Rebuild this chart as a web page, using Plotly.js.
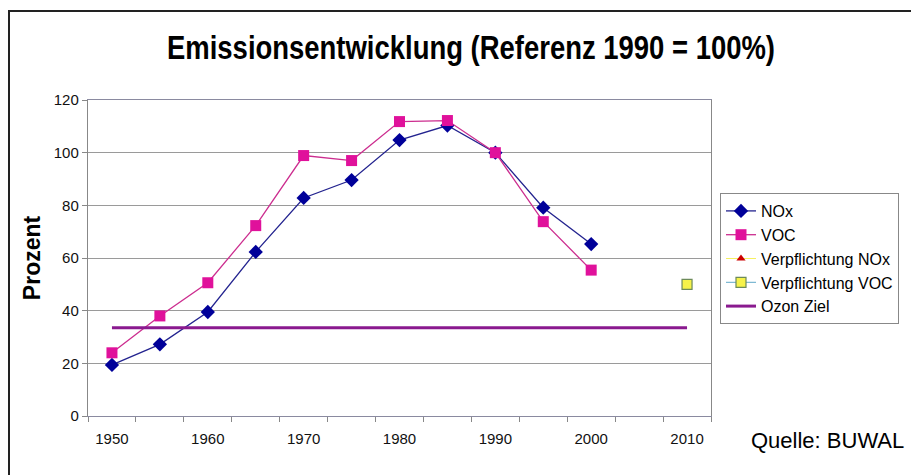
<!DOCTYPE html>
<html>
<head>
<meta charset="utf-8">
<script src="https://cdn.plot.ly/plotly-3.0.1.min.js"></script>
<style>
  html, body { margin: 0; padding: 0; background: #fff; }
  #wrap { position: relative; width: 911px; height: 475px; overflow: hidden; }
  #chart { width: 911px; height: 475px; }
  #frame { position: absolute; left: 8px; top: 10px; width: 1000px; height: 1000px;
           border-left: 2px solid #222; border-top: 2px solid #222; pointer-events: none; }
</style>
</head>
<body>
<div id="wrap">
  <div id="chart"></div>
  <div id="frame"></div>
</div>
<script>
// ---- data ----
const years = [1950, 1955, 1960, 1965, 1970, 1975, 1980, 1985, 1990, 1995, 2000];
const noxValues = [19.4, 27.2, 39.5, 62.3, 82.8, 89.6, 104.8, 110.3, 100, 79.1, 65.3];
const vocValues = [24.0, 38.0, 50.6, 72.3, 98.9, 97.0, 111.8, 112.2, 100, 73.8, 55.4];
const targetYears = [2010];
const targetNox = [50];
const targetVoc = [50];
const ozonYears = [1950, 2010];
const ozonValues = [33.5, 33.5];
const tickYears = [1950, 1960, 1970, 1980, 1990, 2000, 2010];
const tickLabels = ['1950', '1960', '1970', '1980', '1990', '2000', '2010'];

const font = 'Arial, "Liberation Sans", sans-serif';

const traces = [
  { name: 'NOx', x: years, y: noxValues, type: 'scatter', mode: 'lines+markers',
    line: { color: '#23238f', width: 1.3 },
    marker: { symbol: 'diamond', size: 11, color: '#000099' } },
  { name: 'VOC', x: years, y: vocValues, type: 'scatter', mode: 'lines+markers',
    line: { color: '#cc2d8f', width: 1.3 },
    marker: { symbol: 'square', size: 11, color: '#e0119b' } },
  { name: 'Verpflichtung NOx', x: targetYears, y: targetNox, type: 'scatter', mode: 'lines+markers',
    line: { color: '#f5f060', width: 1 },
    marker: { symbol: 'triangle-up', size: 8, color: '#cc0000' } },
  { name: 'Verpflichtung VOC', x: targetYears, y: targetVoc, type: 'scatter', mode: 'lines+markers',
    line: { color: '#5fa8c8', width: 1 },
    marker: { symbol: 'square', size: 10, color: '#f6f24a', line: { color: '#6d8a5a', width: 1.2 } } },
  { name: 'Ozon Ziel', x: ozonYears, y: ozonValues, type: 'scatter', mode: 'lines',
    line: { color: '#8a1a8f', width: 3 } }
];

const layout = {
  width: 911, height: 475,
  margin: { l: 88, r: 200, t: 100, b: 59 },
  paper_bgcolor: '#fff', plot_bgcolor: '#fff',
  font: { family: font, color: '#000', size: 15 },
  showlegend: true,
  title: {
    text: '<b>Emissionsentwicklung (Referenz 1990 = 100%)</b>',
    font: { family: font, size: 33, color: '#000' },
    x: 471 / 911, xref: 'container', xanchor: 'center',
    y: 1 - 47 / 475, yref: 'container', yanchor: 'middle'
  },
  xaxis: {
    range: [1947.5, 2012.5],
    tickmode: 'array', tickvals: tickYears, ticktext: tickLabels,
    ticks: '', ticklen: 0, ticklabelstandoff: 9,
    minor: { tick0: 1947.5, dtick: 5, ticks: 'outside', ticklen: 5, tickcolor: '#888', showgrid: false },
    showline: true, linecolor: '#8a8aa0', linewidth: 1.2, mirror: true,
    showgrid: false, zeroline: false,
    tickfont: { size: 15, family: font, color: '#111' }
  },
  yaxis: {
    range: [0, 120], dtick: 20, tick0: 0,
    ticks: 'outside', ticklen: 5, tickcolor: '#888',
    showline: true, linecolor: '#888', linewidth: 1.2, mirror: true,
    showgrid: true, gridcolor: '#9a9a9a', gridwidth: 1,
    zeroline: false,
    tickfont: { size: 15, family: font, color: '#111' },
    title: { text: '<b>Prozent</b>', font: { size: 23, family: font, color: '#000' }, standoff: 6 }
  },
  legend: {
    x: (720 - 88) / 623, xanchor: 'left',
    y: (416 - 193) / 316, yanchor: 'top',
    bgcolor: '#fff', bordercolor: '#888', borderwidth: 1,
    font: { size: 16, family: font, color: '#000' },
    tracegroupgap: 0, itemwidth: 30
  },
  annotations: [
    { text: 'Quelle: BUWAL', xref: 'paper', yref: 'paper',
      x: (827 - 88) / 623, y: (416 - 440) / 316, xanchor: 'center', yanchor: 'middle',
      showarrow: false, font: { size: 22, family: font, color: '#000' } }
  ]
};

Plotly.newPlot('chart', traces, layout, { displayModeBar: false, staticPlot: true }).then(function (gd) {
  // condense the title horizontally, like the narrow bold face of the original
  const t = gd.querySelector('.gtitle');
  if (t) {
    t.setAttribute('textLength', '608');
    t.setAttribute('lengthAdjust', 'spacingAndGlyphs');
  }
});
</script>
</body>
</html>
